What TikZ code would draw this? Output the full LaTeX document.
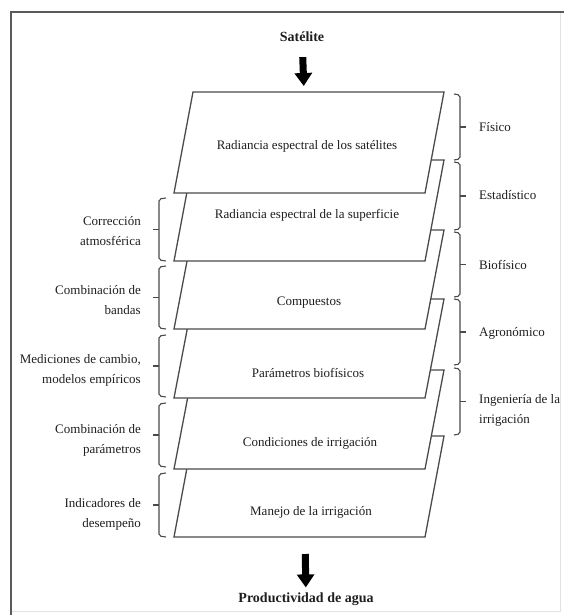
\documentclass[tikz,border=0pt]{standalone}
\usepackage{fontspec}
\setmainfont{Liberation Serif}
\usetikzlibrary{arrows.meta}

\definecolor{edge}{HTML}{4A4A4A}
\definecolor{ink}{HTML}{1E1E1E}
\definecolor{framefaint}{HTML}{E2E2E2}
\definecolor{framedark}{HTML}{5A5A5A}

\tikzset{
  layer/.style={draw=edge, line width=1.3pt, fill=white, line join=miter},
  layertext/.style={text=ink, font=\fontsize{13}{16}\selectfont, inner sep=0pt},
  sidetext/.style={text=ink, font=\fontsize{13}{20}\selectfont, inner sep=0pt},
  lefttext/.style={sidetext, anchor=east, align=right},
  righttext/.style={sidetext, anchor=west, align=left},
  bracket/.style={draw=edge, line width=1.1pt, rounded corners=2pt},
  endtext/.style={text=ink, font=\fontsize{14}{16}\selectfont\bfseries, inner sep=0pt},
  bigarrow/.style={line width=7pt, -{Triangle[width=17pt,length=13pt]}, black}
}

\begin{document}
\begin{tikzpicture}[x=1pt, y=-1pt]
  \useasboundingbox (0,0) rectangle (564,615);

  % outer frame
  \draw[framefaint, line width=1pt] (11,611) -- (560,611) -- (560,12);
  \draw[framedark, line width=1.3pt] (564,12) -- (11,12) -- (11,615);

  % stacked layers, lowest first so each upper one covers the next
  \foreach \t/\b in {436/537, 370/469, 299/398, 230/329, 160/261, 92/193} {
    \path[layer] (174,\b) -- (425,\b) -- (444,\t) -- (193,\t) -- cycle;
  }

  % layer labels
  \node[layertext] (l1) at (307,146) {Radiancia espectral de los satélites};
  \node[layertext] (l2) at (307,215) {Radiancia espectral de la superficie};
  \node[layertext] (l3) at (309,303) {Compuestos};
  \node[layertext] (l4) at (308,373) {Parámetros biofísicos};
  \node[layertext] (l5) at (310,443) {Condiciones de irrigación};
  \node[layertext] (l6) at (311,512) {Manejo de la irrigación};

  % input and output
  \node[endtext] (sat) at (302,37) {Satélite};
  \node[endtext] (prod) at (306,599) {Productividad de agua};
  \coordinate (b1top) at (304,92);
  \coordinate (b6bot) at (305,537);
  \draw[bigarrow, shorten <=15pt, shorten >=6pt] (sat) -- (b1top);
  \draw[bigarrow, shorten <=17pt, shorten >=5pt] (b6bot) -- (prod);

  % right-hand brackets (disciplines), opening to the left with a tick to the right
  \foreach \a/\z in {94/160, 162/230, 232/297, 299/365, 368/435} {
    \draw[bracket] (454,\a) -- (460,\a+1) -- (460,\z-1) -- (454,\z);
    \draw[draw=edge, line width=1.1pt] (460,{(\a+\z)/2}) -- (466,{(\a+\z)/2});
  }
  \node[righttext] (r1) at (479,127) {Físico};
  \node[righttext] (r2) at (479,195) {Estadístico};
  \node[righttext] (r3) at (479,265) {Biofísico};
  \node[righttext] (r4) at (479,333) {Agronómico};
  \node[righttext] (r5) at (479,410) {Ingeniería de la\\irrigación};

  % left-hand brackets (processing steps), opening to the right with a tick to the left
  \foreach \a/\z in {198/261, 266/329, 335/397, 403/467, 473/537} {
    \draw[bracket] (166,\a) -- (159,\a+1) -- (159,\z-1) -- (166,\z);
    \draw[draw=edge, line width=1.1pt] (159,{(\a+\z)/2}) -- (153,{(\a+\z)/2});
  }
  \node[lefttext] (s1) at (141,231) {Corrección\\atmosférica};
  \node[lefttext] (s2) at (141,300) {Combinación de\\bandas};
  \node[lefttext] (s3) at (141,370) {Mediciones de cambio,\\modelos empíricos};
  \node[lefttext] (s4) at (141,440) {Combinación de\\parámetros};
  \node[lefttext] (s5) at (141,514) {Indicadores de\\desempeño};
\end{tikzpicture}
\end{document}
